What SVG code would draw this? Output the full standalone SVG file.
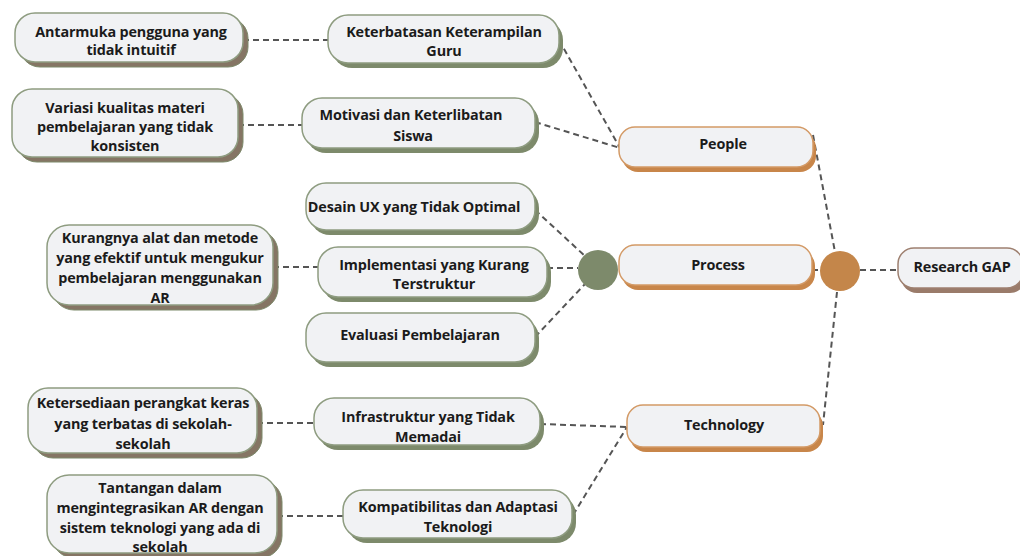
<svg xmlns="http://www.w3.org/2000/svg" width="1020" height="556" viewBox="0 0 1020 556">
<style>
.t{font-family:"Open Sans","Liberation Sans",sans-serif;font-weight:700;font-size:14.4px;fill:#1b1b1b;text-anchor:middle;letter-spacing:-0.15px}
.box{fill:#f1f2f4;stroke-width:1.5}
.g .box{stroke:#8e9c80}
.g .sh{fill:#7d8a6b}
.b .box{stroke:#8e9c80}
.b .sh{fill:#857564;stroke:#7d8a6b;stroke-width:1}
.o .box{stroke:#d39a66}
.o .sh{fill:#c8864a}
.r .box{stroke:#9e8070}
.r .sh{fill:#9a7b6a}
.c{fill:none;stroke:#555;stroke-width:2;stroke-dasharray:6 4}
</style>
<rect width="1020" height="556" fill="#fff"/>
<g id="connectors">
<path class="c" d="M243 40H328"/>
<path class="c" d="M238 125H302"/>
<path class="c" d="M559 40L620 148"/>
<path class="c" d="M535 122L620 148"/>
<path class="c" d="M813 135L835 252"/>
<path class="c" d="M860 270H898"/>
<path class="c" d="M812 270H820"/>
<path class="c" d="M837 292L823 425"/>
<path class="c" d="M535 210L585 256"/>
<path class="c" d="M547 268H578"/>
<path class="c" d="M535 337L585 284"/>
<path class="c" d="M273 267H318"/>
<path class="c" d="M257 423H314"/>
<path class="c" d="M277 516H343"/>
<path class="c" d="M540 424L627 427"/>
<path class="c" d="M573 515L627 427"/>
</g>
<g id="n-antarmuka" class="b"><rect class="sh" x="20" y="18" width="228" height="49" rx="20"/><rect class="box" x="15" y="13" width="228" height="49" rx="20"/><text class="t" x="131" y="37">Antarmuka pengguna yang</text><text class="t" x="131" y="55">tidak intuitif</text></g>
<g id="n-variasi" class="b"><rect class="sh" x="17" y="94" width="226" height="68" rx="20"/><rect class="box" x="12" y="89" width="226" height="68" rx="20"/><text class="t" x="125" y="113">Variasi kualitas materi</text><text class="t" x="125" y="132">pembelajaran yang tidak</text><text class="t" x="125" y="151">konsisten</text></g>
<g id="n-keterbatasan" class="g"><rect class="sh" x="332" y="20" width="231" height="48" rx="20"/><rect class="box" x="328" y="15" width="231" height="48" rx="20"/><text class="t" x="444" y="37">Keterbatasan Keterampilan</text><text class="t" x="444" y="56">Guru</text></g>
<g id="n-motivasi" class="g"><rect class="sh" x="306" y="103" width="233" height="50" rx="20"/><rect class="box" x="302" y="98" width="233" height="50" rx="20"/><text class="t" x="411" y="120">Motivasi dan Keterlibatan</text><text class="t" x="413" y="141">Siswa</text></g>
<g id="n-people" class="o"><rect class="sh" x="622" y="132" width="194" height="40" rx="16"/><rect class="box" x="619" y="127" width="194" height="40" rx="16"/><text class="t" x="723" y="149">People</text></g>
<g id="n-process" class="o"><rect class="sh" x="622" y="250" width="193" height="40" rx="16"/><rect class="box" x="619" y="245" width="193" height="40" rx="16"/><text class="t" x="718" y="270">Process</text></g>
<g id="n-research" class="r"><rect class="sh" x="901" y="253" width="125" height="40" rx="16"/><rect class="box" x="898" y="248" width="125" height="40" rx="16"/><text class="t" x="962" y="272">Research GAP</text></g>
<g id="n-technology" class="o"><rect class="sh" x="630" y="410" width="193" height="42" rx="16"/><rect class="box" x="627" y="405" width="193" height="42" rx="16"/><text class="t" x="724" y="430">Technology</text></g>
<g id="n-desain" class="g"><rect class="sh" x="310" y="188" width="229" height="47" rx="20"/><rect class="box" x="306" y="183" width="229" height="47" rx="20"/><text class="t" x="414" y="212">Desain UX yang Tidak Optimal</text></g>
<g id="n-implementasi" class="g"><rect class="sh" x="322" y="252" width="229" height="50" rx="20"/><rect class="box" x="318" y="247" width="229" height="50" rx="20"/><text class="t" x="434" y="270">Implementasi yang Kurang</text><text class="t" x="434" y="289">Terstruktur</text></g>
<g id="n-evaluasi" class="g"><rect class="sh" x="310" y="318" width="229" height="49" rx="20"/><rect class="box" x="306" y="313" width="229" height="49" rx="20"/><text class="t" x="420" y="340">Evaluasi Pembelajaran</text></g>
<g id="n-kurangnya" class="b"><rect class="sh" x="52" y="230" width="226" height="80" rx="22"/><rect class="box" x="47" y="225" width="226" height="80" rx="22"/><text class="t" x="160" y="243">Kurangnya alat dan metode</text><text class="t" x="160" y="263">yang efektif untuk mengukur</text><text class="t" x="160" y="283">pembelajaran menggunakan</text><text class="t" x="160" y="303">AR</text></g>
<g id="n-ketersediaan" class="b"><rect class="sh" x="33" y="393" width="229" height="65" rx="20"/><rect class="box" x="28" y="388" width="229" height="65" rx="20"/><text class="t" x="143" y="408">Ketersediaan perangkat keras</text><text class="t" x="143" y="429">yang terbatas di sekolah-</text><text class="t" x="143" y="449">sekolah</text></g>
<g id="n-infrastruktur" class="g"><rect class="sh" x="318" y="403" width="226" height="47" rx="20"/><rect class="box" x="314" y="398" width="226" height="47" rx="20"/><text class="t" x="428" y="422">Infrastruktur yang Tidak</text><text class="t" x="428" y="442">Memadai</text></g>
<g id="n-tantangan" class="b"><rect class="sh" x="52" y="480" width="230" height="78" rx="22"/><rect class="box" x="47" y="475" width="230" height="78" rx="22"/><text class="t" x="160" y="493">Tantangan dalam</text><text class="t" x="160" y="513">mengintegrasikan AR dengan</text><text class="t" x="160" y="533">sistem teknologi yang ada di</text><text class="t" x="160" y="552">sekolah</text></g>
<g id="n-kompatibilitas" class="g"><rect class="sh" x="347" y="495" width="229" height="48" rx="20"/><rect class="box" x="343" y="490" width="229" height="48" rx="20"/><text class="t" x="458" y="512">Kompatibilitas dan Adaptasi</text><text class="t" x="458" y="532">Teknologi</text></g>
<g id="hub-process"><circle cx="598" cy="270" r="20" fill="#7d8a6b"/></g>
<g id="hub-main"><circle cx="840" cy="271" r="20" fill="#c4864a"/></g>
</svg>
